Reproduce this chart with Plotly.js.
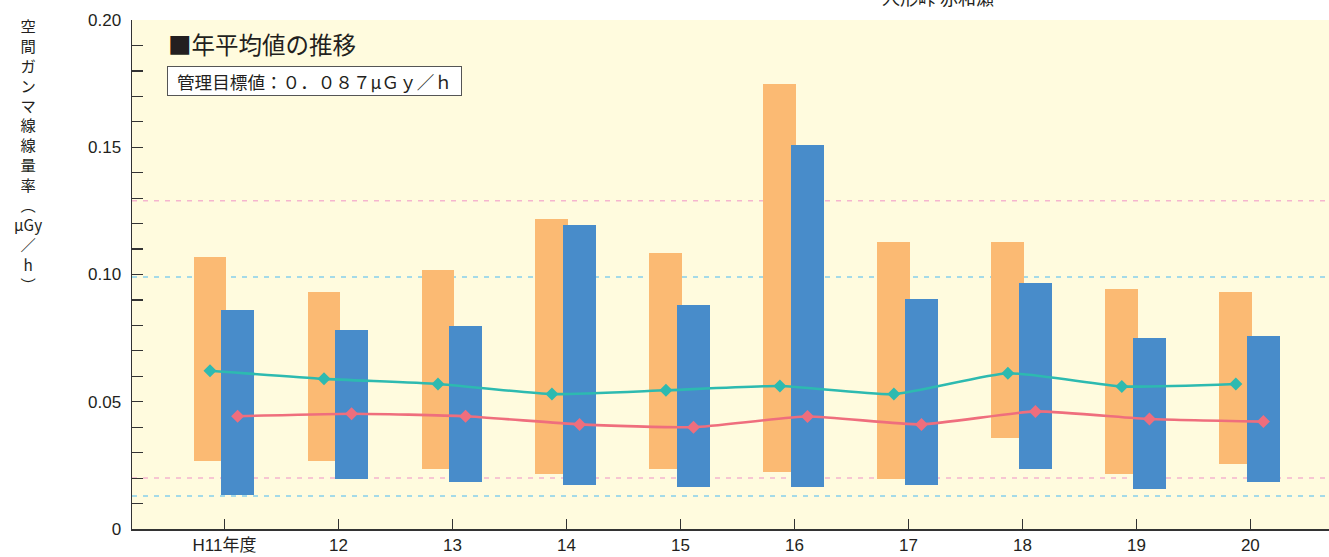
<!DOCTYPE html>
<html>
<head>
<meta charset="utf-8">
<script src="https://cdn.plot.ly/plotly-3.0.1.min.js"></script>
<style>html,body{margin:0;padding:0;background:#fff;}#chart{width:1329px;height:557px;}</style>
</head>
<body>
<div id="chart"></div>
<script>
// ---- data ----
var categories = ['H11年度','12','13','14','15','16','17','18','19','20'];
var orangeMax = [0.1067,0.0933,0.1016,0.1217,0.1083,0.1748,0.1126,0.1126,0.0945,0.0933];
var orangeMin = [0.0268,0.0268,0.0236,0.0217,0.0236,0.0224,0.0197,0.0358,0.0217,0.0256];
var blueMax   = [0.0862,0.0783,0.0799,0.1193,0.0882,0.1508,0.0902,0.0965,0.0752,0.0760];
var blueMin   = [0.0134,0.0197,0.0185,0.0173,0.0165,0.0165,0.0173,0.0236,0.0157,0.0185];
var tealMean  = [0.0622,0.0590,0.0570,0.0530,0.0545,0.0562,0.0530,0.0612,0.0560,0.0570];
var pinkMean  = [0.0443,0.0453,0.0443,0.0411,0.0400,0.0442,0.0411,0.0462,0.0432,0.0422];
var pinkRef   = [0.129, 0.020];
var blueRef   = [0.099, 0.013];
var yTickVals = [0, 0.05, 0.10, 0.15, 0.20];
var yTickText = ['0','0.05','0.10','0.15','0.20'];
var yTitleChars = ['空','間','ガ','ン','マ','線','線','量','率','︵','μGy','／','h','︶'];
var legendTitle = '■年平均値の推移';
var targetText = '管理目標値：０．０８７μＧｙ／ｈ';
var siteTitle = '人形峠 赤和瀬';

// ---- geometry ----
var W = 1329, H = 557, ML = 132, MR = 0, MT = 20, MB = 28;
var PW = W - ML - MR, PH = H - MT - MB;
function px2x(px){ return (px - ML) / PW; }
function py2y(py){ return (H - MB - py) / PH; }

var idx = categories.map(function(_, i){ return i; });
var barW = 0.289, offO = -0.272, offB = -0.03;
var xTeal = idx.map(function(i){ return i + offO + barW/2; });
var xPink = idx.map(function(i){ return i + offB + barW/2; });

var FONT = 'Liberation Sans, Arial, Noto Sans CJK JP, sans-serif';
var CJK = 'Noto Sans CJK JP, sans-serif';

var traces = [
  {type:'bar', x: idx, base: orangeMin, y: orangeMax.map(function(v,i){return v-orangeMin[i];}),
   width: barW, offset: offO, marker:{color:'#FBBA73', line:{width:0}}, hoverinfo:'skip'},
  {type:'bar', x: idx, base: blueMin, y: blueMax.map(function(v,i){return v-blueMin[i];}),
   width: barW, offset: offB, marker:{color:'#488CCA', line:{width:0}}, hoverinfo:'skip'},
  {type:'scatter', mode:'lines+markers', x: xTeal, y: tealMean,
   line:{color:'#2DBAB0', width:2.6, shape:'spline', smoothing:0.5},
   marker:{symbol:'diamond', size:10, color:'#2DBAB0'}, hoverinfo:'skip'},
  {type:'scatter', mode:'lines+markers', x: xPink, y: pinkMean,
   line:{color:'#EF6E7D', width:2.6, shape:'spline', smoothing:0.5},
   marker:{symbol:'diamond', size:10, color:'#EF6E7D'}, hoverinfo:'skip'}
];

var shapes = [];
pinkRef.forEach(function(v){
  shapes.push({type:'line', xref:'paper', x0:0, x1:1, yref:'y', y0:v, y1:v, layer:'below',
    line:{color:'#F5B5CE', width:1.5, dash:'5px,6px'}});
});
blueRef.forEach(function(v){
  shapes.push({type:'line', xref:'paper', x0:0, x1:1, yref:'y', y0:v, y1:v, layer:'below',
    line:{color:'#86CFEC', width:1.5, dash:'5px,6px'}});
});

var annotations = [];
annotations.push({xref:'paper', yref:'paper', x: px2x(28), y: py2y(154),
  xanchor:'center', yanchor:'middle', showarrow:false, align:'center',
  text: yTitleChars.join('<br>'),
  font:{family: CJK, size: 15.3, color:'#231F20'}});
annotations.push({xref:'paper', yref:'paper', x: px2x(166), y: py2y(44),
  xanchor:'left', yanchor:'middle', showarrow:false, text: legendTitle,
  font:{family: CJK, size: 23.5, color:'#231F20'}});
annotations.push({xref:'paper', yref:'paper', x: px2x(167), y: py2y(81),
  xanchor:'left', yanchor:'middle', showarrow:false, text: targetText,
  width: 291, height: 26, align:'center', valign:'middle',
  bgcolor:'#FFFFFF', bordercolor:'#555555', borderwidth:1, borderpad:1,
  font:{family: CJK, size: 17.6, color:'#231F20'}});
annotations.push({xref:'paper', yref:'paper', x: px2x(938), y: py2y(-3),
  xanchor:'center', yanchor:'middle', showarrow:false, text: siteTitle,
  font:{family: CJK, size: 18, color:'#231F20'}});

var layout = {
  width: W, height: H,
  margin:{l:ML, r:MR, t:MT, b:MB, pad:0},
  paper_bgcolor:'#FFFFFF', plot_bgcolor:'#FFFBDE',
  showlegend:false, barmode:'overlay', bargap:0,
  font:{family: FONT, color:'#231F20'},
  xaxis:{range:[-0.812, 9.69], tickvals: idx, ticktext: categories,
    showgrid:false, zeroline:false, showline:true, linecolor:'#333333', linewidth:1.5,
    ticks:'inside', ticklen:10, tickwidth:1.2, tickcolor:'#333333',
    tickfont:{family: FONT, size:17, color:'#231F20'}, fixedrange:true},
  yaxis:{range:[0, 0.2], tickvals: yTickVals, ticktext: yTickText,
    showgrid:false, zeroline:false, showline:true, linecolor:'#333333', linewidth:1.5,
    ticks:'inside', ticklen:11, tickwidth:1.2, tickcolor:'#333333',
    minor:{dtick:0.01, tick0:0, ticks:'inside', ticklen:11, tickwidth:1.2, tickcolor:'#333333', showgrid:false},
    ticklabelstandoff: 6,
    tickfont:{family: FONT, size:17, color:'#231F20'}, fixedrange:true},
  shapes: shapes,
  annotations: annotations
};

Plotly.newPlot('chart', traces, layout, {displayModeBar:false, staticPlot:true});
</script>
</body>
</html>
